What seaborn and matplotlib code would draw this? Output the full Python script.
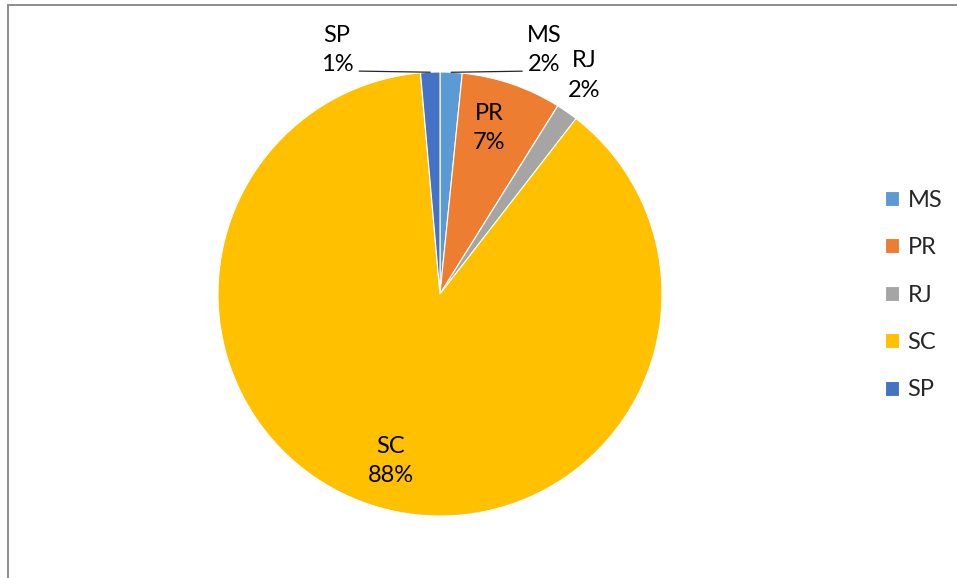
import matplotlib.pyplot as plt
import seaborn as sns
import numpy as np
from matplotlib.lines import Line2D

# data (percent share)
states = ["MS", "PR", "RJ", "SC", "SP"]
shares = [1.6, 7.3, 1.6, 88.1, 1.4]
colors = ["#5B9BD5", "#ED7D31", "#A5A5A5", "#FFC000", "#4472C4"]

sns.set_theme(style="white")
plt.rcParams["font.family"] = ["Lato", "DejaVu Sans"]

W, H = 957, 578
fig = plt.figure(figsize=(W / 100, H / 100), dpi=100)

# pie centre (440, 294) px from top-left, radius 222 px
cx, cy, R = 440, 294, 222
axW = 880
ax = fig.add_axes([0, 0, axW / W, 1])
wedges, _ = ax.pie(shares, colors=colors, startangle=90, counterclock=False,
                   wedgeprops=dict(edgecolor="white", linewidth=0.8))
ax.set_xlim(-cx / R, (axW - cx) / R)
ax.set_ylim(-(H - cy) / R, cy / R)
ax.set_aspect("auto")

fs = 17
# label placement per slice: (radius factor, angle tweak in degrees); None = leader line
label_pos = {"MS": None, "PR": (0.78, 2.5), "RJ": (1.18, 1.5), "SC": (0.785, 0), "SP": None}
for w, name, val in zip(wedges, states, shares):
    mid_deg = (w.theta1 + w.theta2) / 2
    txt = f"{name}\n{round(val):.0f}%"
    if label_pos[name] is not None:
        r, dt = label_pos[name]
        a = np.deg2rad(mid_deg + dt)
        ax.text(r * np.cos(a), r * np.sin(a), txt, ha="center", va="center",
                fontsize=fs, color="black", linespacing=1.5)
    else:
        a = np.deg2rad(mid_deg)
        ex, ey = np.cos(a), np.sin(a)
        side = 1 if ex > 0 else -1
        lx = ex + side * 0.32
        ax.plot([ex, lx], [ey, ey + 0.005], color="#262626", lw=0.9)
        ax.text(lx + side * 0.1, 1.099, txt, ha="center", va="center",
                fontsize=fs, color="black", linespacing=1.5)

leg = fig.legend(wedges, states, loc="center left", bbox_to_anchor=(885 / W, 1 - 295 / H),
                 frameon=False, fontsize=fs, handlelength=0.6, handleheight=0.6,
                 handletextpad=0.35, labelspacing=1.12, borderpad=0, borderaxespad=0)

# partial chart frame (left and top edges)
fig.add_artist(Line2D([8 / W, 8 / W], [0, 1 - 5 / H], transform=fig.transFigure,
                      color="#8c8c8c", lw=1.4))
fig.add_artist(Line2D([8 / W, 1], [1 - 5 / H, 1 - 5 / H], transform=fig.transFigure,
                      color="#8c8c8c", lw=1.4))

fig.savefig("out.png", dpi=100)
